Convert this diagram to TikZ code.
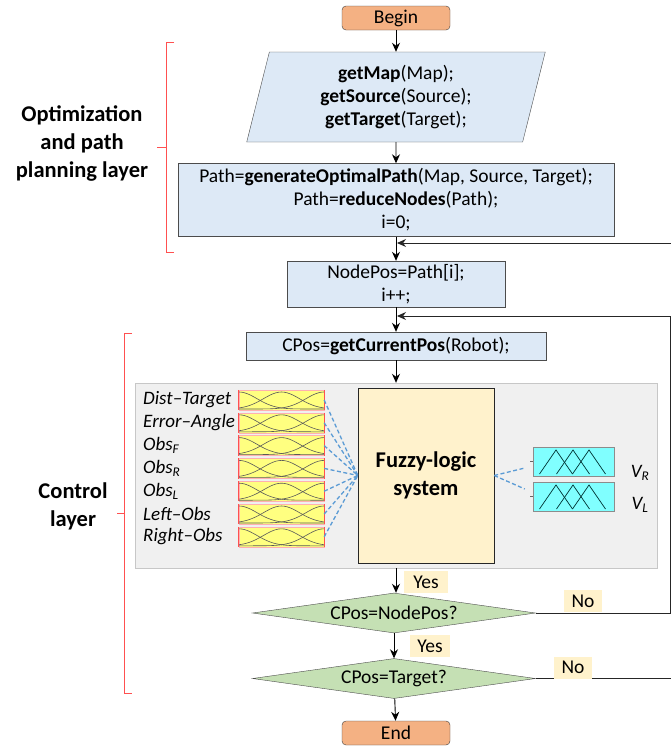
\documentclass[tikz,border=0pt]{standalone}
\usepackage{fontspec}
\setmainfont{Carlito}
\usetikzlibrary{arrows.meta, shapes.geometric, calc}

\definecolor{termcolor}{RGB}{244,177,131}
\definecolor{proccolor}{RGB}{221,233,246}
\definecolor{deccolor}{RGB}{197,224,180}
\definecolor{anscolor}{RGB}{255,242,204}
\definecolor{panelcolor}{RGB}{240,240,240}
\definecolor{mfyellow}{RGB}{255,255,128}
\definecolor{mfred}{RGB}{255,80,80}
\definecolor{mfcyan}{RGB}{128,255,255}
\definecolor{fuzzblue}{RGB}{91,155,213}

\begin{document}
\begin{tikzpicture}[
    x=1pt, y=-1pt,
    every node/.style={font=\fontsize{19.5}{23}\selectfont},
    terminal/.style={draw=black!75, fill=termcolor, rounded corners=4pt, minimum width=108pt, minimum height=24pt, inner sep=0pt},
    process/.style={draw=black!70, fill=proccolor, align=center, inner sep=0pt},
    io/.style={trapezium, trapezium left angle=78, trapezium right angle=102, trapezium stretches=true, draw=black!70, fill=proccolor, align=center, inner sep=0pt},
    decision/.style={diamond, aspect=7, draw=black!70, fill=deccolor, minimum width=283pt, minimum height=40pt, inner sep=0pt},
    answer/.style={fill=anscolor, minimum height=22pt, inner sep=0pt},
    panel/.style={draw=black!22, fill=panelcolor, minimum width=522pt, minimum height=185pt},
    fuzzy/.style={draw=black!85, fill=anscolor, minimum width=136pt, minimum height=175pt, align=center, font=\fontsize{22.5}{28}\selectfont\bfseries},
    layer/.style={align=center, font=\fontsize{22.5}{28}\selectfont\bfseries},
    mfin/.style={draw=mfred!45, fill=mfyellow, minimum width=85pt, minimum height=20pt, inner sep=0pt},
    mfout/.style={draw=black!45, fill=mfcyan, minimum width=81pt, minimum height=29pt, inner sep=0pt},
    mfcurve/.style={black!65, line width=0.6pt},
    mftri/.style={black!60!teal, line width=0.7pt},
    varlabel/.style={font=\fontsize{19}{23}\selectfont\itshape, inner sep=0pt},
    arrow/.style={-{Stealth[length=9pt, width=8pt]}, line width=0.9pt, black},
    loopline/.style={-{Stealth[length=9pt, width=8pt]}, line width=0.9pt, black!85},
    fuzzyline/.style={dash pattern=on 4pt off 2.5pt, line width=1.3pt, fuzzblue},
    bracket/.style={mfred, line width=1pt}
]
    \useasboundingbox (0,0) rectangle (671,747);

    % Blocks in sequence
    \node[terminal] (begin) at (396,18) {Begin};
    \node[io, minimum width=299pt, minimum height=90pt] (input) at (396,97) {\textbf{getMap}(Map);\\\textbf{getSource}(Source);\\\textbf{getTarget}(Target);};
    \node[process, minimum width=436pt, minimum height=73pt] (plan) at (396,200) {Path=\textbf{generateOptimalPath}(Map, Source, Target);\\Path=\textbf{reduceNodes}(Path);\\i=0;};
    \node[process, minimum width=218pt, minimum height=46pt] (next) at (396,284) {NodePos=Path[i];\\i++;};
    \node[process, minimum width=300pt, minimum height=28pt] (cpos) at (396,346) {CPos=\textbf{getCurrentPos}(Robot);};
    \node[panel] (fls) at (396,475.5) {};
    \node[fuzzy] (fuzzy) at (426,475.5) {Fuzzy-logic\\system};
    \node[decision] (atnode) at (394,613) {CPos=NodePos?};
    \node[decision] (attarget) at (394,678.5) {CPos=Target?};
    \node[terminal] (end) at (396,733) {End};

    % Input membership functions
    \foreach \name [count=\k] in {Dist--Target, Error--Angle, Obs\textsubscript{F}, Obs\textsubscript{R}, Obs\textsubscript{L}, Left--Obs, Right--Obs} {
        \pgfmathsetmacro\rowy{400+22.8*(\k-1)}
        \node[mfin] (in\k) at (281.5,\rowy) {};
        \node[varlabel, anchor=west] (lab\k) at (143,\rowy) {\name};
        \foreach \ctr in {0,0.5,1}
            \draw[mfcurve] plot[domain=0:1, samples=31] ({239+85*\x}, {\rowy+9-17*exp(-((\x-\ctr)^2)/0.09)});
        \draw[mfred, line width=1.3pt] (in\k.north west) -- (in\k.south west) (in\k.north east) -- (in\k.south east);
        \draw[fuzzyline] (in\k.east) -- (fuzzy.west);
    }

    % Output membership functions
    \foreach \nm/\yc/\dy in {outR/461.5/-6.5, outL/496.5/7.5} {
        \node[mfout] (\nm) at (573.5,\yc) {};
        \foreach \pk in {556, 573, 589}
            \draw[mftri] (\pk-16.5,\yc+12.5) -- (\pk,\yc-11.5) -- (\pk+16.5,\yc+12.5);
        \draw[black!60] (\nm.west) -- ++(-3,0);
        \draw[fuzzyline] (fuzzy.east) -- ([xshift=-8pt, yshift=\dy pt]\nm.west);
    }
    \node[varlabel] (vR) at (640,473) {V\textsubscript{R}};
    \node[varlabel] (vL) at (640,505) {V\textsubscript{L}};

    % Connect blocks with arrows
    \draw[arrow] (begin) -- (input);
    \draw[arrow] (input) -- (plan);
    \draw[arrow] (plan) -- (next);
    \draw[arrow] (next) -- (cpos);
    \draw[arrow] (cpos) -- (fls);
    \draw[arrow] (fls.south) -- (fls.south |- atnode.north);
    \draw[arrow] (atnode) -- (attarget);
    \draw[arrow] (attarget) -- (end);

    % Feedback loops
    \coordinate (join1) at (397,243);
    \coordinate (join2) at (397,316);
    \draw[loopline] (atnode.east) -- ++(134.5,0) |- (join2);
    \draw[loopline] (attarget.east) -- ++(140,0) |- (join1);

    % Answers
    \node[answer, minimum width=44pt] (yes1) at (426,582) {Yes};
    \node[answer, minimum width=38pt] (no1) at (583,601) {No};
    \node[answer, minimum width=40pt] (yes2) at (430,646) {Yes};
    \node[answer, minimum width=38pt] (no2) at (573,667.5) {No};

    % Layers
    \draw[bracket] (174,42) -- (166,42) -- (166,252) -- (174,252) (166,147) -- (157,147);
    \draw[bracket] (132,333) -- (124,333) -- (124,693) -- (132,693) (124,513) -- (117,513);
    \node[layer] (optlayer) at (82,143) {Optimization\\and path\\planning layer};
    \node[layer] (ctrllayer) at (73,506.5) {Control\\layer};
\end{tikzpicture}
\end{document}
